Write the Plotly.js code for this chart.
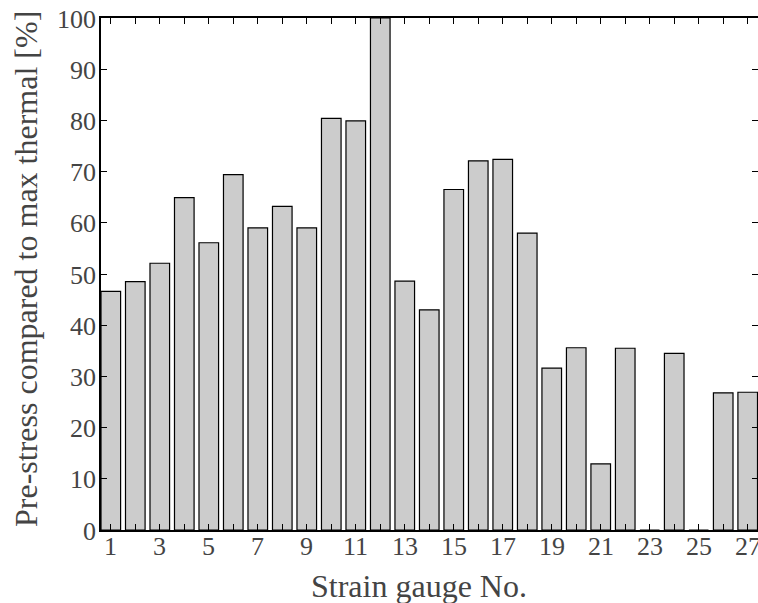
<!DOCTYPE html>
<html>
<head>
<meta charset="utf-8">
<script src="https://cdn.plot.ly/plotly-3.0.1.min.js"></script>
<style>
html,body{margin:0;padding:0;background:#fff;}
#chart{width:758px;height:603px;}
</style>
</head>
<body>
<div id="chart"></div>
<script>
const gauges = [1,2,3,4,5,6,7,8,9,10,11,12,13,14,15,16,17,18,19,20,21,22,23,24,25,26,27];
const prestress = [46.6,48.5,52.1,64.9,56.1,69.4,59.0,63.2,59.0,80.4,79.9,100,48.6,43.0,66.5,72.1,72.4,58.0,31.6,35.6,12.9,35.5,0,34.5,0,26.8,26.9];
const xLabelVals = [1,3,5,7,9,11,13,15,17,19,21,23,25,27];
const xLabelText = xLabelVals.map(String);
const yTicks = [0,10,20,30,40,50,60,70,80,90,100];
const xTitle = 'Strain gauge No.';
const yTitle = 'Pre-stress compared to max thermal [%]';

const SERIF = 'Liberation Serif';

function ann(opts, size) {
  return Object.assign({showarrow: false, font: {family: SERIF, size: size}}, opts);
}

const annotations = [];
xLabelVals.forEach((v, i) => annotations.push(ann({
  text: xLabelText[i], x: v, xref: 'x', y: 0, yref: 'paper',
  xanchor: 'center', yanchor: 'middle', yshift: -16
}, 26)));
yTicks.forEach(v => annotations.push(ann({
  text: String(v), x: 0, xref: 'paper', y: v, yref: 'y',
  xanchor: 'right', yanchor: 'middle', xshift: -3, yshift: -1
}, 26)));
annotations.push(ann({
  text: xTitle, x: 0.484, xref: 'paper', y: -0.11, yref: 'paper',
  xanchor: 'center', yanchor: 'middle'
}, 32));
annotations.push(ann({
  text: yTitle, x: -0.114, xref: 'paper', y: 0.51, yref: 'paper',
  xanchor: 'center', yanchor: 'middle', textangle: -90
}, 32));

Plotly.newPlot('chart', [{
  type: 'bar',
  x: gauges,
  y: prestress,
  width: 0.8,
  marker: {color: '#cccccc', line: {color: '#000000', width: 1.2}},
  hoverinfo: 'x+y'
}], {
  width: 758,
  height: 603,
  margin: {l: 101, r: 0, t: 18, b: 73, pad: 0},
  paper_bgcolor: '#ffffff',
  plot_bgcolor: '#ffffff',
  showlegend: false,
  annotations: annotations,
  xaxis: {
    range: [0.6, 27.42],
    tickmode: 'array',
    tickvals: gauges,
    showticklabels: false,
    ticks: 'inside',
    ticklen: 6,
    tickwidth: 1,
    tickcolor: '#000000',
    showline: true,
    linecolor: '#000000',
    linewidth: 1.5,
    mirror: 'ticks',
    showgrid: false,
    zeroline: false
  },
  yaxis: {
    range: [0, 100],
    tickmode: 'array',
    tickvals: yTicks,
    showticklabels: false,
    ticks: 'inside',
    ticklen: 6,
    tickwidth: 1,
    tickcolor: '#000000',
    showline: true,
    linecolor: '#000000',
    linewidth: 1.5,
    mirror: 'ticks',
    showgrid: false,
    zeroline: false
  }
}, {displayModeBar: false});
</script>
</body>
</html>
